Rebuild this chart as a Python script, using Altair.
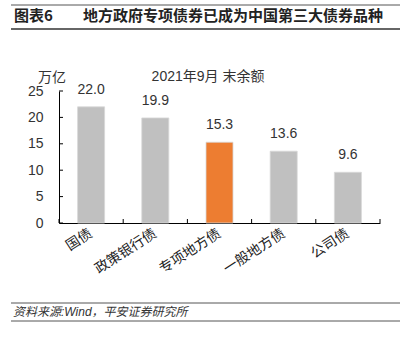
import altair as alt
import pandas as pd

categories = ["国债", "政策银行债", "专项地方债", "一般地方债", "公司债"]
values = [22.0, 19.9, 15.3, 13.6, 9.6]
colors = ["#C0C0C0", "#C0C0C0", "#ED7D31", "#C0C0C0", "#C0C0C0"]
y_ticks = [0, 5, 10, 15, 20, 25]

FONT = "Liberation Sans, Noto Sans CJK SC"
CJK = "Noto Sans CJK SC"

df = pd.DataFrame({"cat": categories, "value": values, "color": colors,
                   "label": [f"{v:.1f}" for v in values]})
ticks_df = pd.DataFrame({"value": y_ticks})
dummy = pd.DataFrame({"a": [0]})

xscale = alt.Scale(domain=categories, paddingInner=0, paddingOuter=0)
yscale = alt.Scale(domain=[0, 25], nice=False)

xaxis = alt.Axis(labelAngle=-33, labelAlign="right", labelBaseline="middle",
                 labelPadding=9, ticks=False, domainColor="#000000",
                 labelFont=CJK, labelFontSize=14, labelColor="#222222")
yaxis = alt.Axis(values=y_ticks, ticks=False, grid=False, labelPadding=16,
                 domainColor="#000000", labelFont=FONT, labelFontSize=14,
                 labelColor="#333333")

bars = alt.Chart(df).mark_bar(size=27, stroke="#d8d8d8", strokeWidth=0.8).encode(
    x=alt.X("cat:N", sort=categories, scale=xscale, title=None, axis=xaxis),
    y=alt.Y("value:Q", scale=yscale, title=None, axis=yaxis),
    color=alt.Color("color:N", scale=None),
)

labels = alt.Chart(df).mark_text(dy=-10, baseline="bottom", font=FONT, fontSize=14,
                                 color="#333333").encode(
    x=alt.X("cat:N", sort=categories, scale=xscale, title=None, axis=xaxis),
    y=alt.Y("value:Q", scale=yscale, title=None, axis=yaxis),
    text="label:N",
)

ytick_rules = alt.Chart(ticks_df).mark_rule(color="#000000").encode(
    y=alt.Y("value:Q", scale=yscale, title=None, axis=yaxis),
    x=alt.value(0), x2=alt.value(4),
)

xtick_df = pd.DataFrame({"cat": categories})
xtick_rules = alt.Chart(xtick_df).mark_rule(color="#000000").encode(
    x=alt.X("cat:N", sort=categories, scale=xscale, bandPosition=0, title=None, axis=xaxis),
    y=alt.value(132), y2=alt.value(128),
)
xtick_last = alt.Chart(pd.DataFrame({"cat": categories[-1:]})).mark_rule(color="#000000").encode(
    x=alt.X("cat:N", sort=categories, scale=xscale, bandPosition=1, title=None, axis=xaxis),
    y=alt.value(132), y2=alt.value(128),
)

base = alt.Chart(dummy)
unit_txt = base.mark_text(text="万亿", font=CJK, fontSize=14, color="#333333",
                          baseline="middle").encode(x=alt.value(-7), y=alt.value(-13))
sub_txt = base.mark_text(text="2021年9月 末余额", font=FONT, fontSize=14, color="#333333",
                         baseline="middle").encode(x=alt.value(149), y=alt.value(-14))
title1 = base.mark_text(text="图表6", font=CJK, fontSize=15, fontWeight="bold",
                        color="#222222", align="left", baseline="middle").encode(
    x=alt.value(-45), y=alt.value(-75))
title2 = base.mark_text(text="地方政府专项债券已成为中国第三大债券品种", font=CJK, fontSize=15,
                        fontWeight="bold", color="#222222", align="left",
                        baseline="middle").encode(x=alt.value(24), y=alt.value(-75))
line1 = base.mark_rule(color="#555555", strokeWidth=1).encode(
    x=alt.value(-48), x2=alt.value(341), y=alt.value(-86))
line2 = base.mark_rule(color="#333333", strokeWidth=1.5).encode(
    x=alt.value(-48), x2=alt.value(341), y=alt.value(-62))
line3 = base.mark_rule(color="#555555", strokeWidth=1).encode(
    x=alt.value(-48), x2=alt.value(341), y=alt.value(212))
line4 = base.mark_rule(color="#555555", strokeWidth=1).encode(
    x=alt.value(-48), x2=alt.value(341), y=alt.value(230))
footer = base.mark_text(text="资料来源:Wind，平安证券研究所", font=FONT, fontSize=12,
                        fontStyle="italic", color="#333333", align="left",
                        baseline="middle").encode(x=alt.value(-46), y=alt.value(221))

chart = alt.layer(bars, labels, ytick_rules, xtick_rules, xtick_last,
                  unit_txt, sub_txt, title1, title2, line1, line2, line3, line4, footer
                  ).properties(
    width=321, height=132,
    autosize=alt.AutoSizeParams(type="none"),
    padding={"left": 59, "top": 91, "right": 31, "bottom": 122},
    background="white",
).configure_view(stroke=None)

chart.save("out.html", embed_options={"renderer": "svg", "actions": False})
